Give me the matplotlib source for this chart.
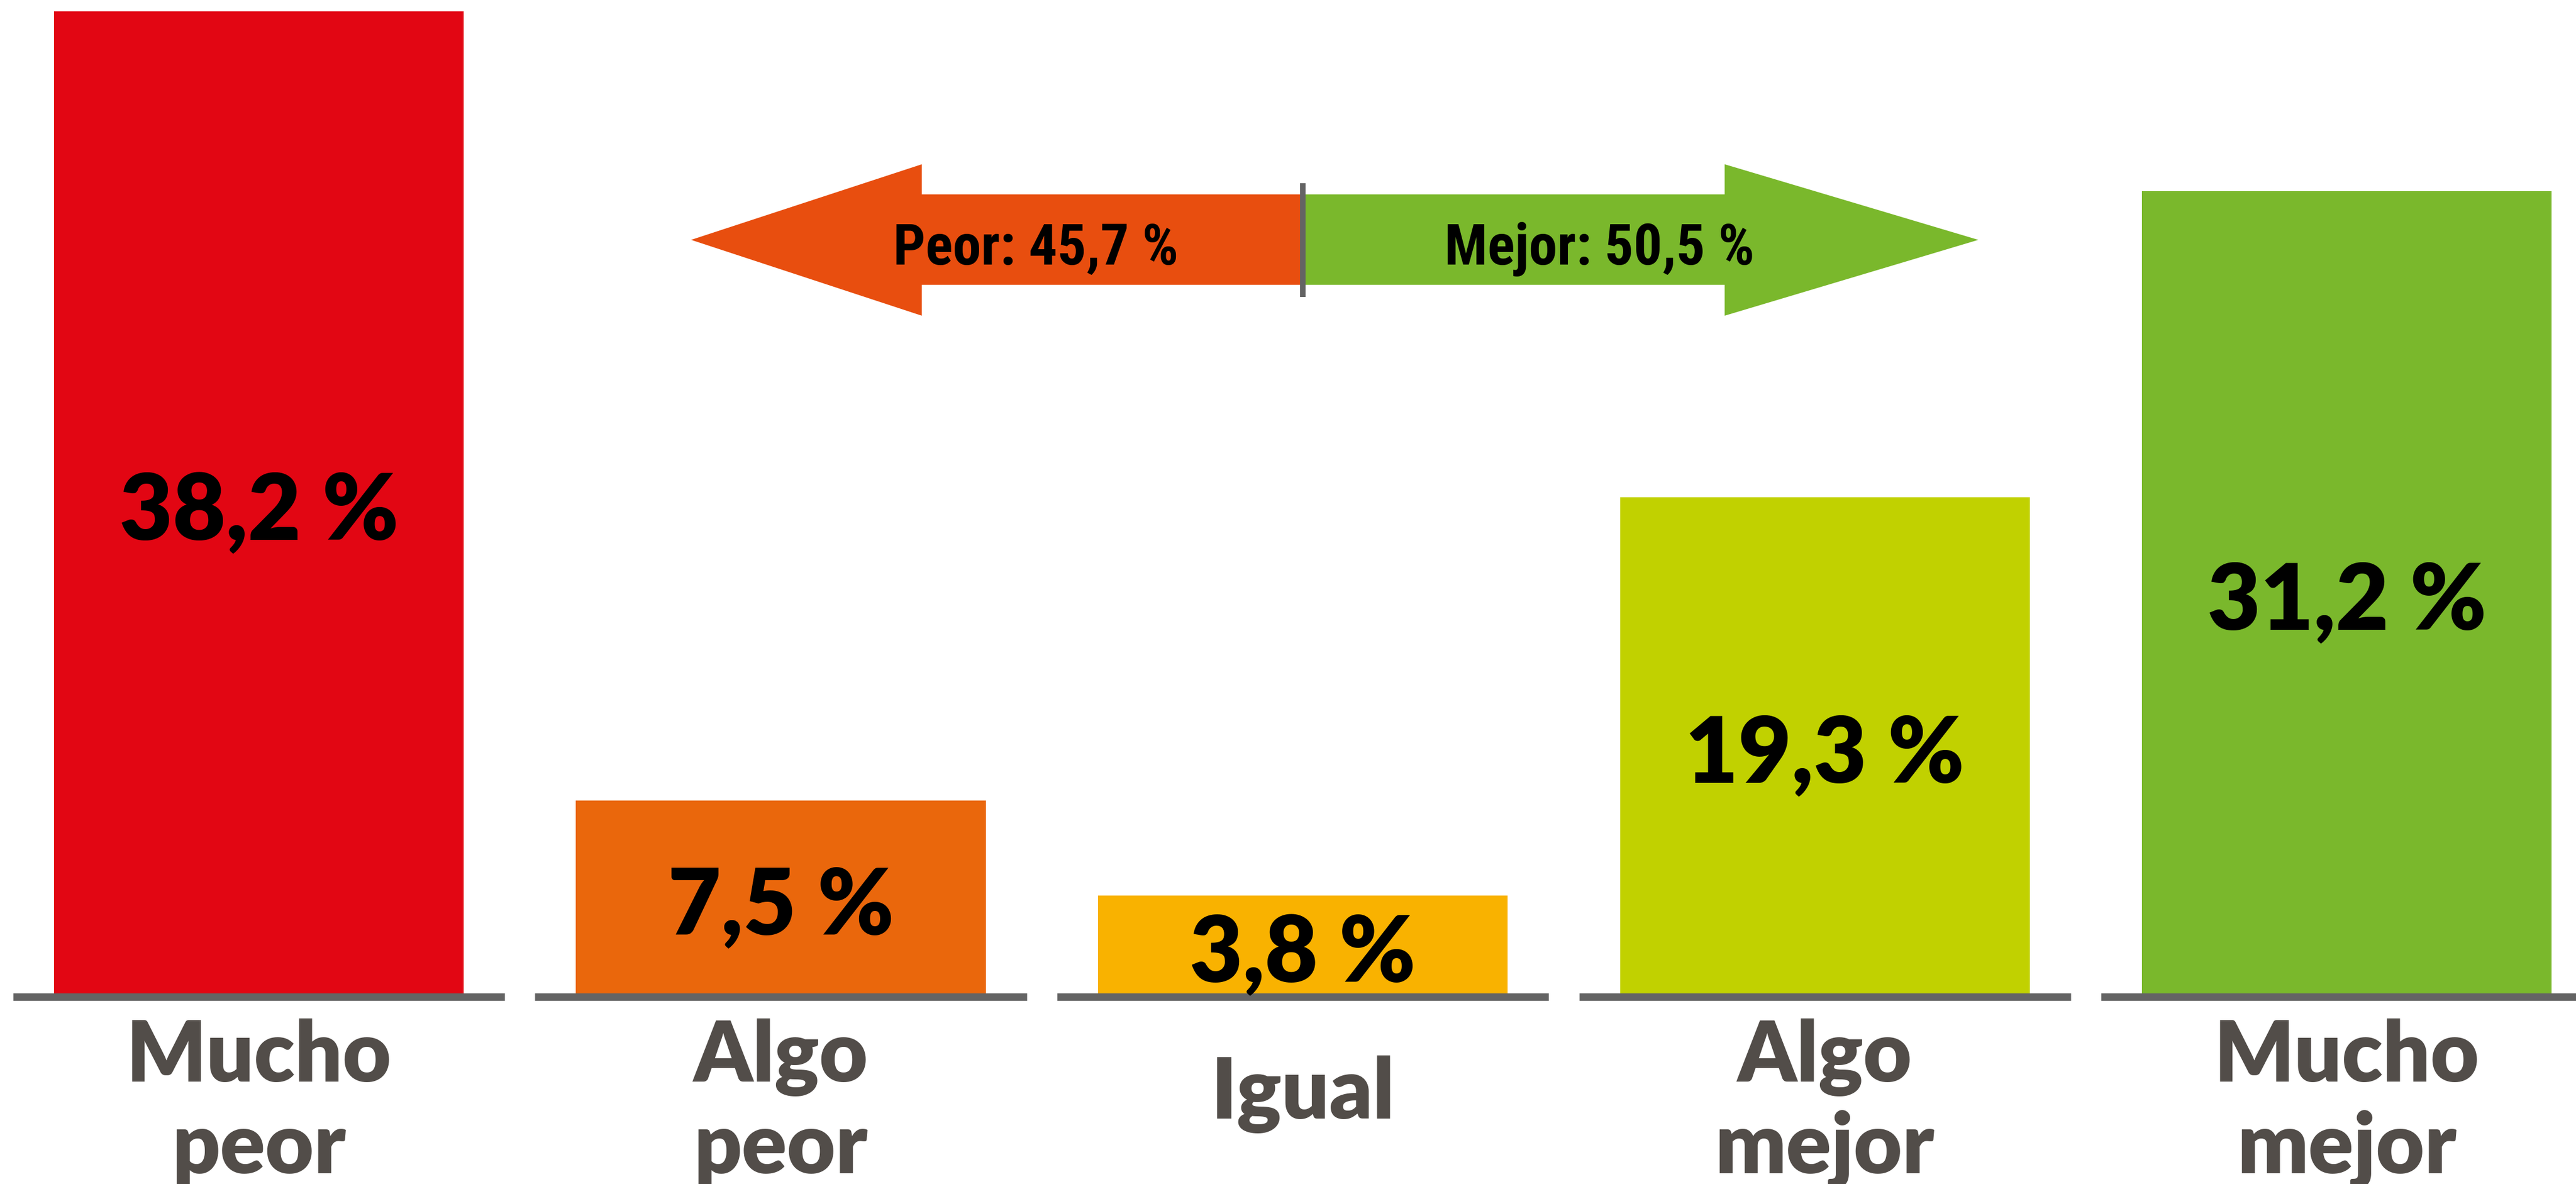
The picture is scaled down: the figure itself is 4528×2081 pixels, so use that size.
import matplotlib.pyplot as plt
from matplotlib.patches import Polygon

# Data
categories = ['Mucho\npeor', 'Algo\npeor', 'Igual', 'Algo\nmejor', 'Mucho\nmejor']
values = [38.2, 7.5, 3.8, 19.3, 31.2]
colors = ['#E20613', '#EA670C', '#F9B200', '#C1D100', '#7AB82C']
summary_labels = ['Peor: 45,7 %', 'Mejor: 50,5 %']
summary_colors = ['#E84E0F', '#7AB82C']

GRAY = '#646464'
LABEL = '#524D49'
NARROW = ['DejaVu Sans Condensed', 'Roboto Condensed', 'Liberation Sans Narrow', 'Roboto']

fig = plt.figure(figsize=(45.28, 20.81), dpi=100)
ax = fig.add_axes([0, 0, 1, 1])
ax.set_xlim(-0.496, 4.439)
ax.set_ylim(-7.415, 38.64)
ax.axis('off')

x = list(range(len(values)))
ax.bar(x, values, width=0.785, color=colors, zorder=2)

# baseline segments under each bar
ax.hlines([-0.144] * len(x), [i - 0.471 for i in x], [i + 0.471 for i in x],
          colors=GRAY, linewidth=9.4, capstyle='butt', zorder=3)

# value labels inside bars
for i, v in zip(x, values):
    txt = f'{v:.1f}'.replace('.', ',') + ' %'
    ax.text(i, v / 2 - 1.46, txt, ha='center', va='baseline',
            fontsize=116, fontweight='heavy', family='Lato', color='black', zorder=4)

# category labels
for i, cat in zip(x, categories):
    lines = cat.split('\n')
    ys = [-3.43, -6.99] if len(lines) == 2 else [-4.87]
    for line, yy in zip(lines, ys):
        ax.text(i, yy, line, ha='center', va='baseline', fontsize=106,
                fontweight='heavy', family='Lato', color=LABEL)

# double arrow: worse (left) / better (right)
mid = 2
left_arrow = [(mid, 31.08), (1.270, 31.08), (1.270, 32.25), (0.828, 29.31),
              (1.270, 26.36), (1.270, 27.56), (mid, 27.56)]
right_arrow = [(mid, 31.08), (2.808, 31.08), (2.808, 32.25), (3.294, 29.31),
               (2.808, 26.36), (2.808, 27.56), (mid, 27.56)]
ax.add_patch(Polygon(left_arrow, closed=True, facecolor=summary_colors[0], edgecolor='none', zorder=2))
ax.add_patch(Polygon(right_arrow, closed=True, facecolor=summary_colors[1], edgecolor='none', zorder=2))
ax.plot([mid, mid], [27.09, 31.52], color=GRAY, linewidth=7, solid_capstyle='butt', zorder=3)

ax.text(1.488, 28.35, summary_labels[0], ha='center', va='baseline', fontsize=72,
        fontweight='bold', family=NARROW, color='black', zorder=4)
ax.text(2.568, 28.35, summary_labels[1], ha='center', va='baseline', fontsize=72,
        fontweight='bold', family=NARROW, color='black', zorder=4)

fig.savefig('out.png', dpi=100, facecolor='white')
